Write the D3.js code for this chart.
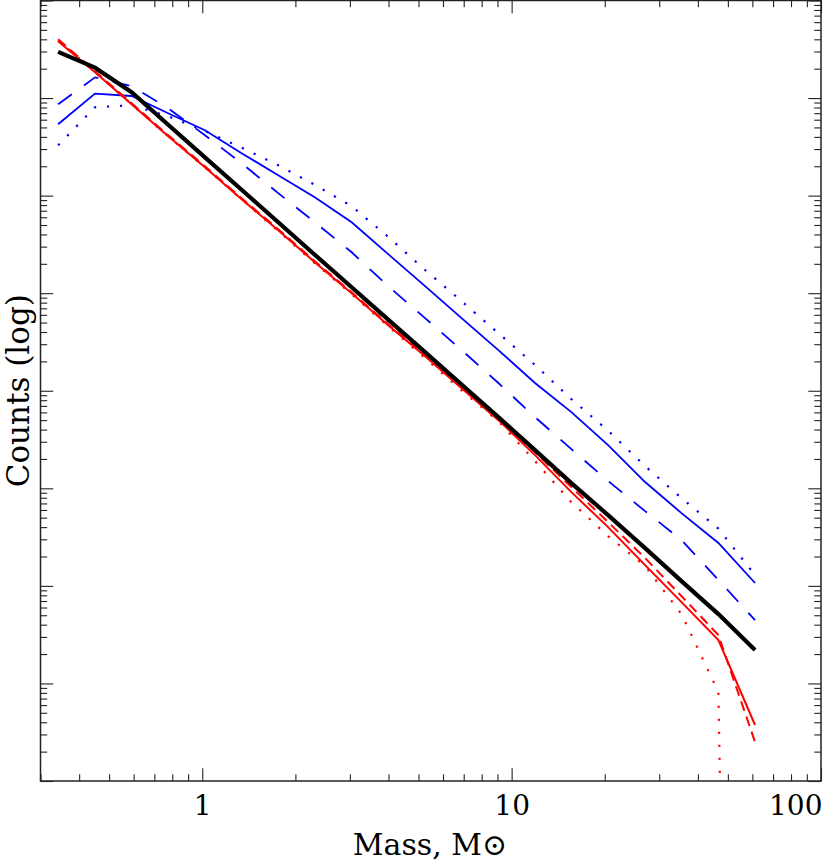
<!DOCTYPE html>
<html>
<head>
<meta charset="utf-8">
<script src="https://cdn.jsdelivr.net/npm/d3@7/dist/d3.min.js"></script>
<style>
  html, body { margin: 0; padding: 0; background: #fff; }
  svg { display: block; }
  text { font-family: "DejaVu Serif", serif; fill: #000; }
</style>
</head>
<body>
<svg id="chart" width="831" height="861"></svg>
<script>
// ---- data ----
const masses = [0.342, 0.450, 0.591, 0.776, 1.02, 1.34, 1.76, 2.31, 3.04, 3.99,
                5.25, 6.89, 9.06, 11.9, 15.6, 20.5, 27.0, 35.4, 46.6, 61.2];

const totalCounts = [2.97e7, 2.05e7, 1.15e7, 5.33e6, 2.47e6, 1.15e6, 5.34e5, 2.48e5, 1.15e5, 5.35e4,
                     2.49e4, 1.16e4, 5.36e3, 2.46e3, 1.13e3, 531, 244, 112, 51.4, 22.0];

const blueSolid  = [5.39e6, 1.11e7, 1.05e7, 6.99e6, 4.68e6, 2.72e6, 1.62e6, 9.63e5, 5.34e5, 2.51e5,
                    1.18e5, 5.55e4, 2.61e4, 1.20e4, 6.04e3, 2.77e3, 1.16e3, 557, 275, 107];
const blueDashed = [8.64e6, 1.63e7, 1.32e7, 7.86e6, 4.16e6, 2.15e6, 1.06e6, 5.34e5, 2.63e5, 1.18e5,
                    5.55e4, 2.61e4, 1.20e4, 5.36e3, 2.52e3, 1.19e3, 584, 295, 115, 44.6];
const blueDotted = [3.28e6, 8.05e6, 8.44e6, 6.51e6, 4.60e6, 3.10e6, 2.05e6, 1.29e6, 7.79e5, 3.78e5,
                    1.73e5, 8.28e4, 3.89e4, 1.84e4, 8.20e3, 3.90e3, 1.69e3, 794, 386, 129];

const redSolid   = [3.82e7, 1.84e7, 8.64e6, 4.06e6, 1.95e6, 9.19e5, 4.42e5, 2.08e5, 1.00e5, 4.70e4,
                    2.26e4, 1.06e4, 5.00e3, 2.19e3, 914, 400, 163, 68.2, 27.8, 3.75];
const redDashed  = [4.00e7, 1.88e7, 8.85e6, 4.16e6, 2.00e6, 9.41e5, 4.53e5, 2.13e5, 1.02e5, 4.81e4,
                    2.32e4, 1.09e4, 5.24e3, 2.35e3, 1.03e3, 451, 193, 78.6, 31.3, 2.51];
const redDotted  = [3.91e7, 1.84e7, 8.64e6, 4.06e6, 1.95e6, 9.19e5, 4.32e5, 2.03e5, 9.77e4, 4.59e4,
                    2.16e4, 1.01e4, 4.88e3, 1.90e3, 722, 324, 160, 51.4, 8.16, 1e-20];

const xMajorTicks = [1, 10, 100];
const xTickLabels = ["1", "10", "100"];
const yDomain = [1, 1e8];
const xDomain = [0.3, 100];

// ---- layout ----
const L = 40.5, R = 821, T = 0.5, B = 781;
const svg = d3.select("#chart");

const x = d3.scaleLog().domain(xDomain).range([L, R]);
const y = d3.scaleLog().domain(yDomain).range([B, T]);

// minor ticks
const xMinor = [];
for (let e = -1; e <= 1; e++) for (let k = 2; k <= 9; k++) {
  const v = k * Math.pow(10, e);
  if (v >= xDomain[0] && v <= xDomain[1]) xMinor.push(v);
}
const yMajor = d3.range(0, 9).map(e => Math.pow(10, e));
const yMinor = [];
for (let e = 0; e < 8; e++) for (let k = 2; k <= 9; k++) yMinor.push(k * Math.pow(10, e));

const MAJ = 12.7, MIN = 6.7;
const tickColor = "#222";

function styleAxis(g) {
  g.select(".domain").remove();
  g.selectAll(".tick line").attr("stroke", tickColor).attr("stroke-width", 1.1);
}

// bottom axis (labels)
svg.append("g").attr("transform", `translate(0,${B})`)
  .call(d3.axisBottom(x).tickValues(xMajorTicks).tickSize(-MAJ).tickPadding(14)
        .tickFormat((d, i) => xTickLabels[i]))
  .call(styleAxis)
  .call(g => g.selectAll(".tick text")
     .attr("font-family", "DejaVu Serif").attr("font-size", 28).attr("fill", "#000")
     .each(function(d) { if (d === 100) d3.select(this).attr("text-anchor", "end").attr("dx", "1"); }));
svg.append("g").attr("transform", `translate(0,${B})`)
  .call(d3.axisBottom(x).tickValues(xMinor).tickSize(-MIN).tickFormat(""))
  .call(styleAxis);
// top axis
svg.append("g").attr("transform", `translate(0,${T})`)
  .call(d3.axisTop(x).tickValues(xMajorTicks).tickSize(-MAJ).tickFormat(""))
  .call(styleAxis);
svg.append("g").attr("transform", `translate(0,${T})`)
  .call(d3.axisTop(x).tickValues(xMinor).tickSize(-MIN).tickFormat(""))
  .call(styleAxis);
// left axis
svg.append("g").attr("transform", `translate(${L},0)`)
  .call(d3.axisLeft(y).tickValues(yMajor).tickSize(-MAJ).tickFormat(""))
  .call(styleAxis);
svg.append("g").attr("transform", `translate(${L},0)`)
  .call(d3.axisLeft(y).tickValues(yMinor).tickSize(-MIN).tickFormat(""))
  .call(styleAxis);
// right axis
svg.append("g").attr("transform", `translate(${R},0)`)
  .call(d3.axisRight(y).tickValues(yMajor).tickSize(-MAJ).tickFormat(""))
  .call(styleAxis);
svg.append("g").attr("transform", `translate(${R},0)`)
  .call(d3.axisRight(y).tickValues(yMinor).tickSize(-MIN).tickFormat(""))
  .call(styleAxis);

// clip
svg.append("defs").append("clipPath").attr("id", "plotclip")
  .append("rect").attr("x", L).attr("y", T).attr("width", R - L).attr("height", B - T);

const line = d3.line().x((d, i) => x(masses[i])).y(d => y(d));
const plot = svg.append("g").attr("clip-path", "url(#plotclip)");

const series = [
  { data: blueDotted, color: "#0000ff", width: 2.2, dash: "2.2,10.8" },
  { data: blueDashed, color: "#0000ff", width: 1.8, dash: "17,15" },
  { data: blueSolid,  color: "#0000ff", width: 1.8, dash: null },
  { data: redDotted,  color: "#ff0000", width: 2.2, dash: "2.2,10.8" },
  { data: redDashed,  color: "#ff0000", width: 2.0, dash: "10,6" },
  { data: redSolid,   color: "#ff0000", width: 2.0, dash: null },
  { data: totalCounts, color: "#000000", width: 4.2, dash: null }
];
series.forEach(s => {
  const p = plot.append("path").attr("d", line(s.data))
    .attr("fill", "none").attr("stroke", s.color).attr("stroke-width", s.width)
    .attr("stroke-linejoin", "miter");
  if (s.dash) p.attr("stroke-dasharray", s.dash);
});

// frame
svg.append("rect").attr("x", L).attr("y", T).attr("width", R - L).attr("height", B - T)
  .attr("fill", "none").attr("stroke", "#222").attr("stroke-width", 1.5);

// axis titles
svg.append("text").attr("x", 430).attr("y", 855).attr("text-anchor", "middle")
  .attr("font-size", 30).text("Mass, M\u2299");
svg.append("text").attr("transform", `translate(29,${(T + B) / 2}) rotate(-90)`)
  .attr("text-anchor", "middle").attr("font-size", 31).text("Counts (log)");
</script>
</body>
</html>
